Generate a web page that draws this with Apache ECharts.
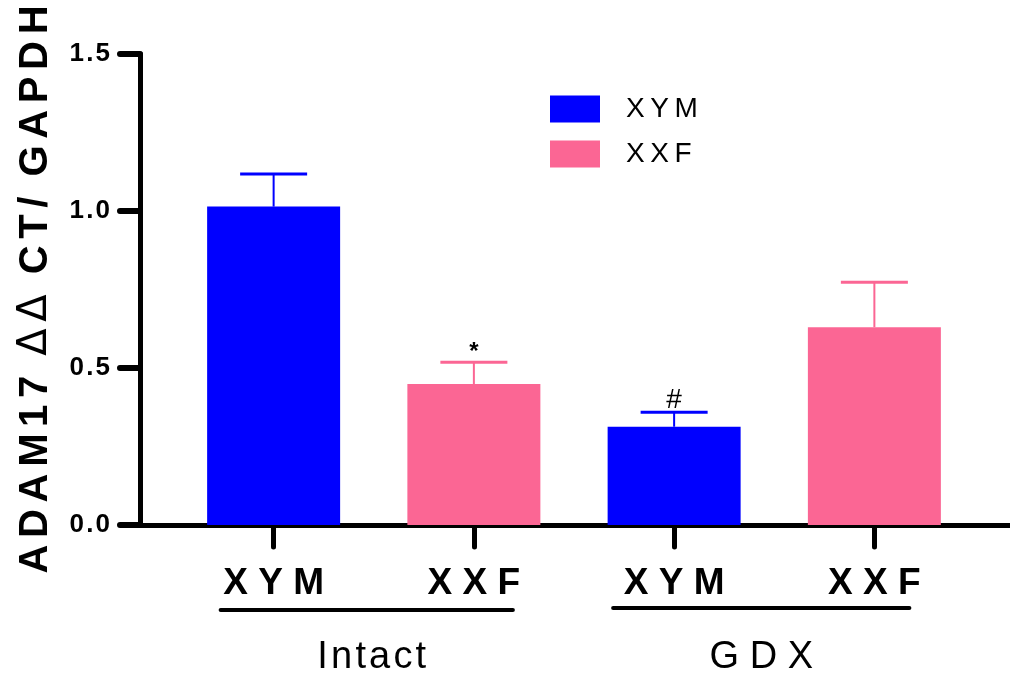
<!DOCTYPE html>
<html>
<head>
<meta charset="utf-8">
<script src="https://cdn.jsdelivr.net/npm/echarts@6/dist/echarts.min.js"></script>
<style>html,body{margin:0;padding:0;background:#fff}#c{width:1010px;height:683px}</style>
</head>
<body>
<div id="c"></div>
<script>
// ---- data ----
const categories = ['XYM', 'XXF', 'XYM', 'XXF'];
const groups = ['Intact', 'GDX'];
const seriesNames = ['XYM', 'XXF'];
const xymMeans = [1.014, null, 0.313, null];
const xxfMeans = [null, 0.449, null, 0.630];
const sem = [0.104, 0.069, 0.046, 0.143];
const annotations = ['', '*', '#', ''];
const yTicks = [0, 0.5, 1.0, 1.5];
const yTitle = 'ADAM17 ΔΔ CT/ GAPDH';

const colors = ['#0000FF', '#FB6694'];
const FONT = 'Liberation Sans, Arial, DejaVu Sans, sans-serif';
const HS = '\u2006';
const spaced = (s, sp) => s.split('').join(sp);

const chart = echarts.init(document.getElementById('c'), null, {renderer: 'canvas'});
const TOP = 54, BOTTOM = 158;

const errData = categories.map((c, i) => {
  const m = xymMeans[i] != null ? xymMeans[i] : xxfMeans[i];
  return [i, m, sem[i], xymMeans[i] != null ? 0 : 1];
});

// y-axis title with spaced letters
const titleParts = yTitle.split(' ');
const titleRich = titleParts.map(w => {
  if (w.indexOf('Δ') >= 0) return '{d|' + spaced(w, HS) + '}';
  return '{b|' + spaced(w, HS) + '}';
}).join('{s| }');

const option = {
  animation: false,
  backgroundColor: '#fff',
  textStyle: {fontFamily: FONT},
  legend: {
    orient: 'vertical', left: 550, top: 95, padding: 0,
    itemWidth: 50, itemHeight: 27, itemGap: 17,
    icon: 'rect',
    data: seriesNames,
    formatter: n => spaced(n, '\u2009'),
    textStyle: {fontSize: 28, color: '#000', fontFamily: FONT, padding: [0, 0, 0, 21]}
  },
  grid: [
    {left: 140, right: 0, top: TOP, bottom: BOTTOM},
    {left: 173.5, width: 801, top: TOP, bottom: BOTTOM}
  ],
  xAxis: [
    {gridIndex: 0, type: 'value', min: 0, max: 1,
     axisLine: {show: true, lineStyle: {color: '#000', width: 5}},
     axisTick: {show: false}, axisLabel: {show: false}, splitLine: {show: false}},
    {gridIndex: 1, type: 'category', data: categories,
     axisLine: {show: false},
     axisTick: {show: true, alignWithLabel: true, length: 22, lineStyle: {color: '#000', width: 5, cap: 'round'}},
     axisLabel: {margin: 40, fontSize: 37, fontWeight: 'bold', color: '#000', fontFamily: FONT,
                 formatter: v => spaced(v, ' ')}}
  ],
  yAxis: [
    {gridIndex: 0, type: 'value', min: 0, max: 1.5, interval: 0.5,
     axisLine: {show: true, lineStyle: {color: '#000', width: 5, cap: 'round'}},
     axisTick: {show: true, length: 20, lineStyle: {color: '#000', width: 6, cap: 'round'}},
     axisLabel: {margin: 30, fontSize: 26, fontWeight: 'bold', color: '#000', fontFamily: FONT,
                 formatter: v => spaced(v.toFixed(1), '\u200A')},
     splitLine: {show: false},
     name: titleRich, nameLocation: 'middle', nameRotate: 90, nameGap: 84,
     nameTextStyle: {
       rich: {
         b: {fontSize: 40, fontWeight: 'bold', color: '#000', fontFamily: FONT},
         d: {fontSize: 40, fontWeight: 'normal', color: '#000', fontFamily: 'DejaVu Sans, ' + FONT},
         s: {fontSize: 40, fontWeight: 'bold', color: '#000', fontFamily: FONT, width: 20}
       }
     }},
    {gridIndex: 1, type: 'value', min: 0, max: 1.5, interval: 0.5, show: false}
  ],
  series: [
    {name: seriesNames[0], type: 'bar', xAxisIndex: 1, yAxisIndex: 1, stack: 'g',
     barWidth: 133, data: xymMeans.map(v => v == null ? '-' : v), itemStyle: {color: colors[0]}},
    {name: seriesNames[1], type: 'bar', xAxisIndex: 1, yAxisIndex: 1, stack: 'g',
     barWidth: 133, data: xxfMeans.map(v => v == null ? '-' : v), itemStyle: {color: colors[1]}},
    {type: 'custom', xAxisIndex: 1, yAxisIndex: 1, data: errData, z: 5,
     renderItem: function (params, api) {
       const i = api.value(0), m = api.value(1), e = api.value(2), g = api.value(3);
       const p0 = api.coord([i, m]);
       const p1 = api.coord([i, m + e]);
       const col = colors[g];
       const half = 33.5;
       const ann = annotations[params.dataIndex];
       const children = [
         {type: 'line', shape: {x1: p0[0], y1: p0[1], x2: p1[0], y2: p1[1]}, style: {stroke: col, lineWidth: 2}},
         {type: 'line', shape: {x1: p1[0] - half, y1: p1[1], x2: p1[0] + half, y2: p1[1]}, style: {stroke: col, lineWidth: 3}}
       ];
       if (ann) {
         children.push({type: 'text', style: {
           text: ann, x: p1[0], y: p1[1] + 2, textAlign: 'center', textVerticalAlign: 'bottom',
           font: (ann === '*' ? 'bold 24px ' : '28px ') + FONT, fill: '#000'}});
       }
       return {type: 'group', children};
     }}
  ]
};
chart.setOption(option);

// group underlines and labels, positioned from the category axis (by ordinal index)
const px = i => chart.convertToPixel({xAxisIndex: 1}, i);
const graphics = [];
groups.forEach((g, k) => {
  const a = px(2 * k), b = px(2 * k + 1);
  const left = a - (k === 0 ? 53 : 61);
  const right = b + (k === 0 ? 39 : 35);
  const ly = k === 0 ? 610 : 608;
  graphics.push({type: 'line', shape: {x1: left, y1: ly, x2: right, y2: ly},
                 style: {stroke: '#000', lineWidth: 4, lineCap: 'round'}});
  const cx = k === 0 ? (a + b) / 2 - 2 : (a + b) / 2 - 13;
  graphics.push({type: 'text', style: {
    text: k === 0 ? spaced(g, '\u200A') : spaced(g, ' '),
    x: cx, y: 658, textAlign: 'center', textVerticalAlign: 'middle',
    font: '38px ' + FONT, fill: '#000'}});
});
chart.setOption({graphic: graphics});
</script>
</body>
</html>
